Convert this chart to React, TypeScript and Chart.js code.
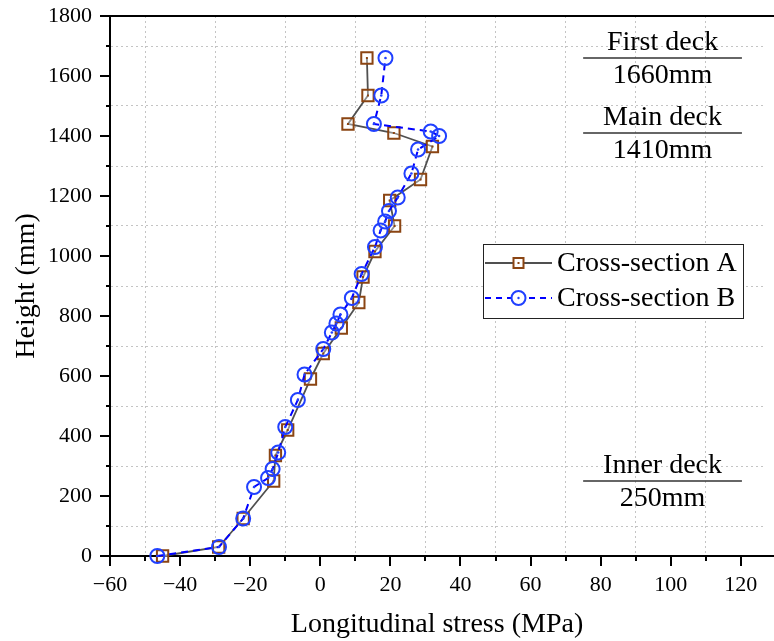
import React, { useEffect, useRef } from 'react';
import { Chart, registerables } from 'chart.js';

Chart.register(...registerables);

// ---- data ----
const heightsA = [0, 30, 125, 250, 335, 420, 590, 675, 760, 845, 930, 1015, 1100, 1185, 1255, 1365, 1410, 1440, 1535, 1660];
const stressA = [-45, -29, -22, -13.3, -12.8, -9.3, -2.8, 0.85, 6, 11, 12.2, 15.6, 21.2, 19.8, 28.6, 32, 21, 7.9, 13.6, 13.3];

const heightsB = [0, 30, 125, 230, 260, 290, 345, 430, 520, 605, 690, 745, 775, 805, 860, 940, 1030, 1085, 1115, 1150, 1195, 1275, 1355, 1400, 1415, 1440, 1535, 1660];
const stressB = [-46.5, -28.9, -22, -18.9, -14.9, -13.6, -12, -10, -6.4, -4.5, 0.85, 3.3, 4.6, 5.75, 9, 11.8, 15.6, 17.2, 18.5, 19.6, 22.1, 26, 27.9, 33.9, 31.5, 15.3, 17.4, 18.6];

const seriesNames = ['Cross-section A', 'Cross-section B'];

const xMajorTicks = [-60, -40, -20, 0, 20, 40, 60, 80, 100, 120];
const xMinorTicks = [-50, -30, -10, 10, 30, 50, 70, 90, 110];
const yMajorTicks = [0, 200, 400, 600, 800, 1000, 1200, 1400, 1600, 1800];
const yMinorTicks = [100, 300, 500, 700, 900, 1100, 1300, 1500, 1700];

const deckNames = ['First deck', 'Main deck', 'Inner deck'];
const deckHeights = [1660, 1410, 250];
const deckLabels = ['1660mm', '1410mm', '250mm'];
const deckLineFrom = 75;
const deckLineTo = 120.3;

const FONT = "'Liberation Serif', 'Times New Roman', serif";
const COLOR_A_LINE = '#505050';
const COLOR_A_MARK = '#8B4513';
const COLOR_B_LINE = '#0000ff';
const COLOR_B_MARK = '#2040ff';

const toPts = (xs: number[], ys: number[]) => xs.map((x, i) => ({ x, y: ys[i] }));

function drawSquare(ctx: CanvasRenderingContext2D, x: number, y: number, s: number) {
  ctx.save();
  ctx.strokeStyle = COLOR_A_MARK;
  ctx.lineWidth = 2;
  ctx.strokeRect(x - s / 2, y - s / 2, s, s);
  ctx.fillStyle = COLOR_A_MARK;
  ctx.fillRect(x - 1, y - 1, 2, 2);
  ctx.restore();
}
function drawCircle(ctx: CanvasRenderingContext2D, x: number, y: number, r: number) {
  ctx.save();
  ctx.strokeStyle = COLOR_B_MARK;
  ctx.lineWidth = 2;
  ctx.beginPath();
  ctx.arc(x, y, r, 0, Math.PI * 2);
  ctx.stroke();
  ctx.fillStyle = COLOR_B_MARK;
  ctx.beginPath();
  ctx.arc(x, y, 1.2, 0, Math.PI * 2);
  ctx.fill();
  ctx.restore();
}

const decorPlugin = {
  id: 'decor',
  afterDraw(chart: any) {
    const { ctx, chartArea, scales } = chart;
    const xs = scales.x;
    const ys = scales.y;
    ctx.save();
    // tick marks
    ctx.strokeStyle = '#000';
    ctx.lineWidth = 2;
    const xb = chartArea.bottom;
    xMajorTicks.concat(xMinorTicks).forEach((v) => {
      const len = xMajorTicks.includes(v) ? 10 : 5;
      const px = Math.round(xs.getPixelForValue(v));
      ctx.beginPath();
      ctx.moveTo(px, xb);
      ctx.lineTo(px, xb + len);
      ctx.stroke();
    });
    const yl = chartArea.left;
    yMajorTicks.concat(yMinorTicks).forEach((v) => {
      const len = yMajorTicks.includes(v) ? 10 : 4;
      const py = Math.round(ys.getPixelForValue(v));
      ctx.beginPath();
      ctx.moveTo(yl - len, py);
      ctx.lineTo(yl, py);
      ctx.stroke();
    });
    // top frame and bottom axis extension to the edge
    ctx.beginPath();
    ctx.moveTo(chartArea.left - 1, chartArea.top);
    ctx.lineTo(chart.width, chartArea.top);
    ctx.moveTo(chartArea.right - 2, xb);
    ctx.lineTo(chart.width, xb);
    ctx.stroke();

    // deck annotations
    ctx.font = `28px ${FONT}`;
    ctx.fillStyle = '#000';
    ctx.textAlign = 'center';
    ctx.textBaseline = 'middle';
    const x1 = xs.getPixelForValue(deckLineFrom);
    const x2 = xs.getPixelForValue(deckLineTo);
    const cx = (x1 + x2) / 2;
    deckHeights.forEach((h, i) => {
      const py = ys.getPixelForValue(h);
      ctx.strokeStyle = '#333';
      ctx.lineWidth = 1.5;
      ctx.beginPath();
      ctx.moveTo(x1, py);
      ctx.lineTo(x2, py);
      ctx.stroke();
      ctx.fillText(deckNames[i], cx, py - 15);
      ctx.fillText(deckLabels[i], cx, py + 18);
    });

    // legend
    const lx = chartArea.left + 373;
    const ly = chartArea.top + 228;
    const lw = 260;
    const lh = 74;
    ctx.fillStyle = '#fff';
    ctx.fillRect(lx, ly, lw, lh);
    ctx.strokeStyle = '#222';
    ctx.lineWidth = 1;
    ctx.strokeRect(lx + 0.5, ly + 0.5, lw, lh);
    const r1 = ly + 19;
    const r2 = ly + 54;
    const s1 = lx + 2;
    const s2 = lx + 69;
    const sm = (s1 + s2) / 2;
    ctx.strokeStyle = COLOR_A_LINE;
    ctx.lineWidth = 1.8;
    ctx.beginPath();
    ctx.moveTo(s1, r1);
    ctx.lineTo(s2, r1);
    ctx.stroke();
    ctx.fillStyle = '#fff';
    ctx.fillRect(sm - 5, r1 - 5, 10, 10);
    drawSquare(ctx, sm, r1, 10);
    ctx.strokeStyle = COLOR_B_LINE;
    ctx.lineWidth = 2;
    ctx.setLineDash([6, 5]);
    ctx.beginPath();
    ctx.moveTo(s1, r2);
    ctx.lineTo(s2, r2);
    ctx.stroke();
    ctx.setLineDash([]);
    ctx.fillStyle = '#fff';
    ctx.beginPath();
    ctx.arc(sm, r2, 7, 0, Math.PI * 2);
    ctx.fill();
    drawCircle(ctx, sm, r2, 7);
    ctx.fillStyle = '#000';
    ctx.font = `28px ${FONT}`;
    ctx.textAlign = 'left';
    ctx.textBaseline = 'middle';
    ctx.fillText(seriesNames[0], lx + 74, r1 + 1);
    ctx.fillText(seriesNames[1], lx + 74, r2 + 1);
    ctx.restore();
  },
};

export default function App() {
  const ref = useRef<HTMLCanvasElement | null>(null);
  useEffect(() => {
    if (!ref.current) return;
    const gridColor = (minor: number[]) => (c: any) =>
      c.tick && minor.includes(c.tick.value) ? '#c4c4c4' : 'rgba(0,0,0,0)';
    const chart = new Chart(ref.current, {
      type: 'scatter',
      data: {
        datasets: [
          {
            label: seriesNames[1] + ' centers',
            data: toPts(stressB, heightsB),
            showLine: false,
            pointStyle: 'circle',
            pointRadius: 1.3,
            pointBorderWidth: 0,
            pointBackgroundColor: COLOR_B_MARK,
            order: 1,
            clip: false,
          } as any,
          {
            label: seriesNames[1],
            data: toPts(stressB, heightsB),
            showLine: true,
            borderColor: COLOR_B_LINE,
            borderWidth: 2,
            borderDash: [7, 5],
            pointStyle: 'circle',
            pointRadius: 7,
            pointBorderWidth: 2,
            pointBorderColor: COLOR_B_MARK,
            pointBackgroundColor: 'rgba(0,0,0,0)',
            order: 2,
            clip: false,
          } as any,
          {
            label: seriesNames[0] + ' centers',
            data: toPts(stressA, heightsA),
            showLine: false,
            pointStyle: 'rect',
            pointRadius: 1.4,
            pointBorderWidth: 0,
            pointBackgroundColor: COLOR_A_MARK,
            order: 3,
            clip: false,
          } as any,
          {
            label: seriesNames[0],
            data: toPts(stressA, heightsA),
            showLine: true,
            borderColor: COLOR_A_LINE,
            borderWidth: 1.8,
            pointStyle: 'rect',
            pointRadius: 8,
            pointBorderWidth: 2,
            pointBorderColor: COLOR_A_MARK,
            pointBackgroundColor: 'rgba(255,255,255,0.35)',
            order: 4,
            clip: false,
          } as any,
        ],
      },
      options: {
        animation: false,
        responsive: true,
        maintainAspectRatio: false,
        layout: { padding: { top: 16, left: 0, right: 0, bottom: 0 } },
        plugins: { legend: { display: false }, tooltip: { enabled: false } },
        scales: {
          x: {
            type: 'linear',
            min: -60,
            max: 126.6,
            afterBuildTicks: (s: any) => {
              s.ticks = xMajorTicks.concat(xMinorTicks).sort((a, b) => a - b).map((v) => ({ value: v }));
            },
            afterFit: (s: any) => {
              s.height = 85;
              s.paddingLeft = 0;
              s.paddingRight = 0;
              s.paddingTop = 0;
              s.paddingBottom = 0;
            },
            ticks: {
              autoSkip: false,
              maxRotation: 0,
              padding: 16,
              color: '#000',
              font: { family: FONT, size: 22 },
              callback: (v: any) => (xMajorTicks.includes(v) ? String(v).replace('-', '\u2212') : ''),
            },
            grid: { drawTicks: false, color: gridColor(xMinorTicks), lineWidth: 1 },
            border: { display: true, color: '#000', width: 2, dash: [2, 3] },
            title: {
              display: true,
              text: 'Longitudinal stress (MPa)',
              color: '#000',
              font: { family: FONT, size: 28 },
              padding: { top: 0, bottom: 0 },
            },
          },
          y: {
            type: 'linear',
            min: 0,
            max: 1800,
            afterBuildTicks: (s: any) => {
              s.ticks = yMajorTicks.concat(yMinorTicks).sort((a, b) => a - b).map((v) => ({ value: v }));
            },
            afterFit: (s: any) => {
              s.width = 110;
              s.paddingLeft = 0;
              s.paddingRight = 0;
              s.paddingTop = 0;
              s.paddingBottom = 0;
            },
            ticks: {
              autoSkip: false,
              padding: 18,
              color: '#000',
              font: { family: FONT, size: 22 },
              callback: (v: any) => (yMajorTicks.includes(v) ? String(v) : ''),
            },
            grid: { drawTicks: false, color: gridColor(yMinorTicks), lineWidth: 1 },
            border: { display: true, color: '#000', width: 2, dash: [2, 3] },
            title: {
              display: true,
              text: 'Height (mm)',
              color: '#000',
              font: { family: FONT, size: 28 },
              padding: { top: 10, bottom: 0 },
            },
          },
        },
      },
      plugins: [decorPlugin],
    } as any);
    return () => chart.destroy();
  }, []);
  return (
    <div style={{ position: 'fixed', left: 0, top: 0, width: 774, height: 641, background: '#fff' }}>
      <canvas ref={ref} />
    </div>
  );
}
